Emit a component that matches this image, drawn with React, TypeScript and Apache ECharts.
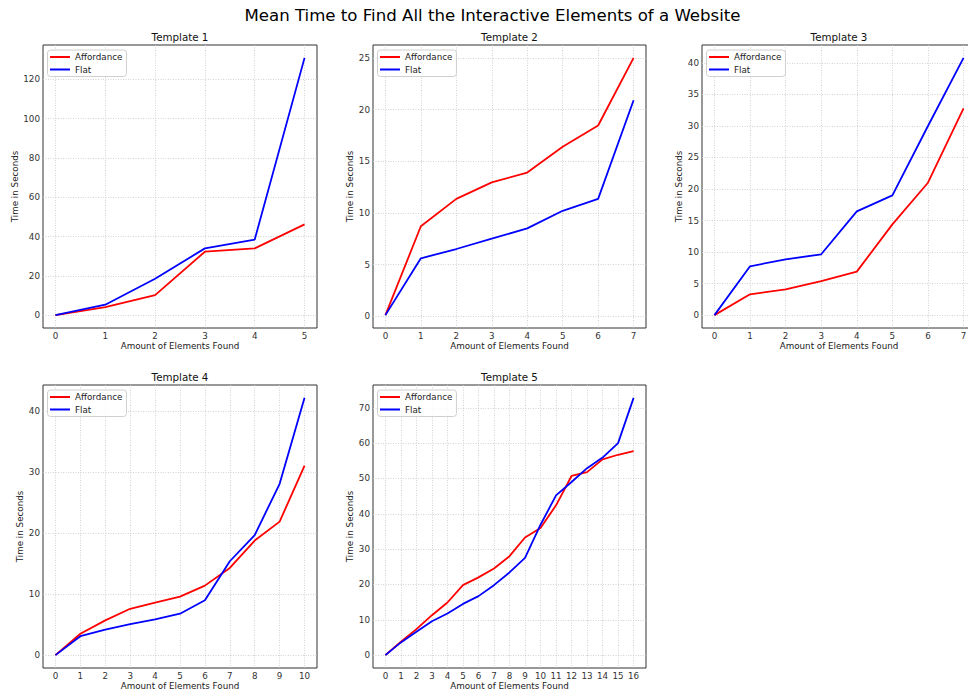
import React, { useEffect, useRef } from "react";
import * as echarts from "echarts";

const mainTitle = "Mean Time to Find All the Interactive Elements of a Website";
const panelTitles = ["Template 1", "Template 2", "Template 3", "Template 4", "Template 5"];
const seriesNames = ["Affordance", "Flat"];
const xAxisName = "Amount of Elements Found";
const yAxisName = "Time in Seconds";

const t1Affordance = [0, 4.1, 10.2, 32.3, 34.0, 46.2];
const t1Flat = [0, 5.3, 18.5, 34.0, 38.5, 131.0];
const t1YTicks = [0, 20, 40, 60, 80, 100, 120];

const t2Affordance = [0.1, 8.7, 11.35, 12.95, 13.9, 16.4, 18.45, 25.0];
const t2Flat = [0.1, 5.6, 6.5, 7.5, 8.5, 10.2, 11.35, 20.9];
const t2YTicks = [0, 5, 10, 15, 20, 25];

const t3Affordance = [0, 3.3, 4.1, 5.4, 6.9, 14.4, 21.0, 32.8];
const t3Flat = [0, 7.75, 8.85, 9.65, 16.45, 19.0, 30.0, 40.8];
const t3YTicks = [0, 5, 10, 15, 20, 25, 30, 35, 40];

const t4Affordance = [0, 3.5, 5.7, 7.6, 8.6, 9.6, 11.4, 14.3, 18.8, 21.9, 31.1];
const t4Flat = [0, 3.1, 4.2, 5.1, 5.85, 6.8, 9.0, 15.4, 19.7, 28.1, 42.2];
const t4YTicks = [0, 10, 20, 30, 40];

const t5Affordance = [0, 3.8, 7.35, 11.3, 14.9, 19.8, 22.0, 24.5, 28.0, 33.3, 36.0, 42.4, 50.7, 51.8, 55.4, 56.7, 57.7];
const t5Flat = [0, 3.6, 6.6, 9.6, 11.8, 14.5, 16.7, 19.8, 23.4, 27.5, 36.9, 45.2, 49.0, 52.9, 55.9, 60.0, 72.8];
const t5YTicks = [0, 10, 20, 30, 40, 50, 60, 70];

const panelAffordance = [t1Affordance, t2Affordance, t3Affordance, t4Affordance, t5Affordance];
const panelFlat = [t1Flat, t2Flat, t3Flat, t4Flat, t5Flat];
const panelYTicks = [t1YTicks, t2YTicks, t3YTicks, t4YTicks, t5YTicks];

// layout (pixels)
const grids = [
  { left: 43, top: 45, width: 274, height: 283, yNameGap: 22 },
  { left: 373, top: 45, width: 273, height: 283, yNameGap: 19 },
  { left: 702, top: 45, width: 274, height: 283, yNameGap: 18 },
  { left: 43, top: 385, width: 274, height: 283, yNameGap: 17 },
  { left: 373, top: 385, width: 273, height: 283, yNameGap: 17 },
];

const FONT = "DejaVu Sans";
const RED = "#ff0000";
const BLUE = "#0000ff";

export default function App() {
  const ref = useRef<HTMLDivElement>(null);
  useEffect(() => {
    if (!ref.current) return;
    const chart = echarts.init(ref.current, null, { renderer: "svg" });
    const gridOpts: any[] = [];
    const xAxes: any[] = [];
    const yAxes: any[] = [];
    const series: any[] = [];
    const legends: any[] = [];
    const graphics: any[] = [
      {
        type: "text",
        x: 492.5,
        y: 15,
        style: {
          text: mainTitle,
          fontFamily: FONT,
          fontSize: 16.6,
          fill: "#000",
          align: "center",
          verticalAlign: "middle",
        },
      },
    ];
    panelAffordance.forEach((aff, i) => {
      const flat = panelFlat[i];
      const g = grids[i];
      const n = aff.length - 1;
      const xPad = n * 0.05;
      const all = aff.concat(flat);
      const lo = Math.min(...all);
      const hi = Math.max(...all);
      const yPad = (hi - lo) * 0.05;
      const xTicks = aff.map((_, k) => k);
      gridOpts.push({
        left: g.left,
        top: g.top,
        width: g.width,
        height: g.height,
        show: true,
        borderColor: "#333",
        borderWidth: 1,
        backgroundColor: "transparent",
        containLabel: false,
      });
      xAxes.push({
        type: "value",
        gridIndex: i,
        min: -xPad,
        max: n + xPad,
        name: xAxisName,
        nameLocation: "middle",
        nameGap: 13,
        nameTextStyle: { fontFamily: FONT, fontSize: 8.75, color: "#222", verticalAlign: "top" },
        axisLine: { show: false },
        axisTick: { show: false, customValues: xTicks },
        axisLabel: {
          customValues: xTicks,
          fontFamily: FONT,
          fontSize: 8.75,
          color: "#333",
          margin: 3,
        },
        splitLine: { show: true, lineStyle: { color: "#c8c8c8", type: [1, 1.5], width: 0.8 } },
      });
      yAxes.push({
        type: "value",
        gridIndex: i,
        min: lo - yPad,
        max: hi + yPad,
        name: yAxisName,
        nameLocation: "middle",
        nameGap: g.yNameGap,
        nameTextStyle: { fontFamily: FONT, fontSize: 8.75, color: "#222" },
        axisLine: { show: false },
        axisTick: { show: false, customValues: panelYTicks[i] },
        axisLabel: {
          customValues: panelYTicks[i],
          fontFamily: FONT,
          fontSize: 8.75,
          color: "#333",
          margin: 3,
        },
        splitLine: { show: true, lineStyle: { color: "#c8c8c8", type: [1, 1.5], width: 0.8 } },
      });
      [aff, flat].forEach((vals, s) => {
        series.push({
          type: "line",
          name: seriesNames[s],
          xAxisIndex: i,
          yAxisIndex: i,
          data: vals.map((v, k) => [k, v]),
          showSymbol: false,
          symbol: "none",
          lineStyle: { color: s === 0 ? RED : BLUE, width: 1.8 },
          itemStyle: { color: s === 0 ? RED : BLUE },
          z: 2 + s,
          clip: true,
        });
      });
      legends.push({
        show: true,
        orient: "vertical",
        left: g.left + 4.5,
        top: g.top + 5,
        data: seriesNames.map((nm, s) => ({ name: nm, icon: "rect", itemStyle: { color: s === 0 ? RED : BLUE } })),
        itemWidth: 20,
        itemHeight: 2,
        itemGap: 1.5,
        itemTextGap: 6,
        padding: [1.5, 4, 1.5, 2.5],
        backgroundColor: "rgba(255,255,255,0.85)",
        borderColor: "#d0d0d0",
        borderWidth: 1,
        borderRadius: 3,
        selectedMode: false,
        textStyle: { fontFamily: FONT, fontSize: 8.75, color: "#222", lineHeight: 11 },
      });
      graphics.push({
        type: "text",
        x: g.left + g.width / 2,
        y: g.top - 8,
        style: {
          text: panelTitles[i],
          fontFamily: FONT,
          fontSize: 10.3,
          fill: "#111",
          align: "center",
          verticalAlign: "middle",
        },
      });
    });
    chart.setOption({
      animation: false,
      backgroundColor: "#fff",
      grid: gridOpts,
      xAxis: xAxes,
      yAxis: yAxes,
      series,
      legend: legends,
      graphic: graphics,
    });
    return () => chart.dispose();
  }, []);
  return (
    <div
      style={{
        position: "absolute",
        left: 0,
        top: 0,
        width: 968,
        height: 695,
        overflow: "hidden",
        background: "#fff",
      }}
    >
      <div ref={ref} style={{ width: 990, height: 695 }} />
    </div>
  );
}
